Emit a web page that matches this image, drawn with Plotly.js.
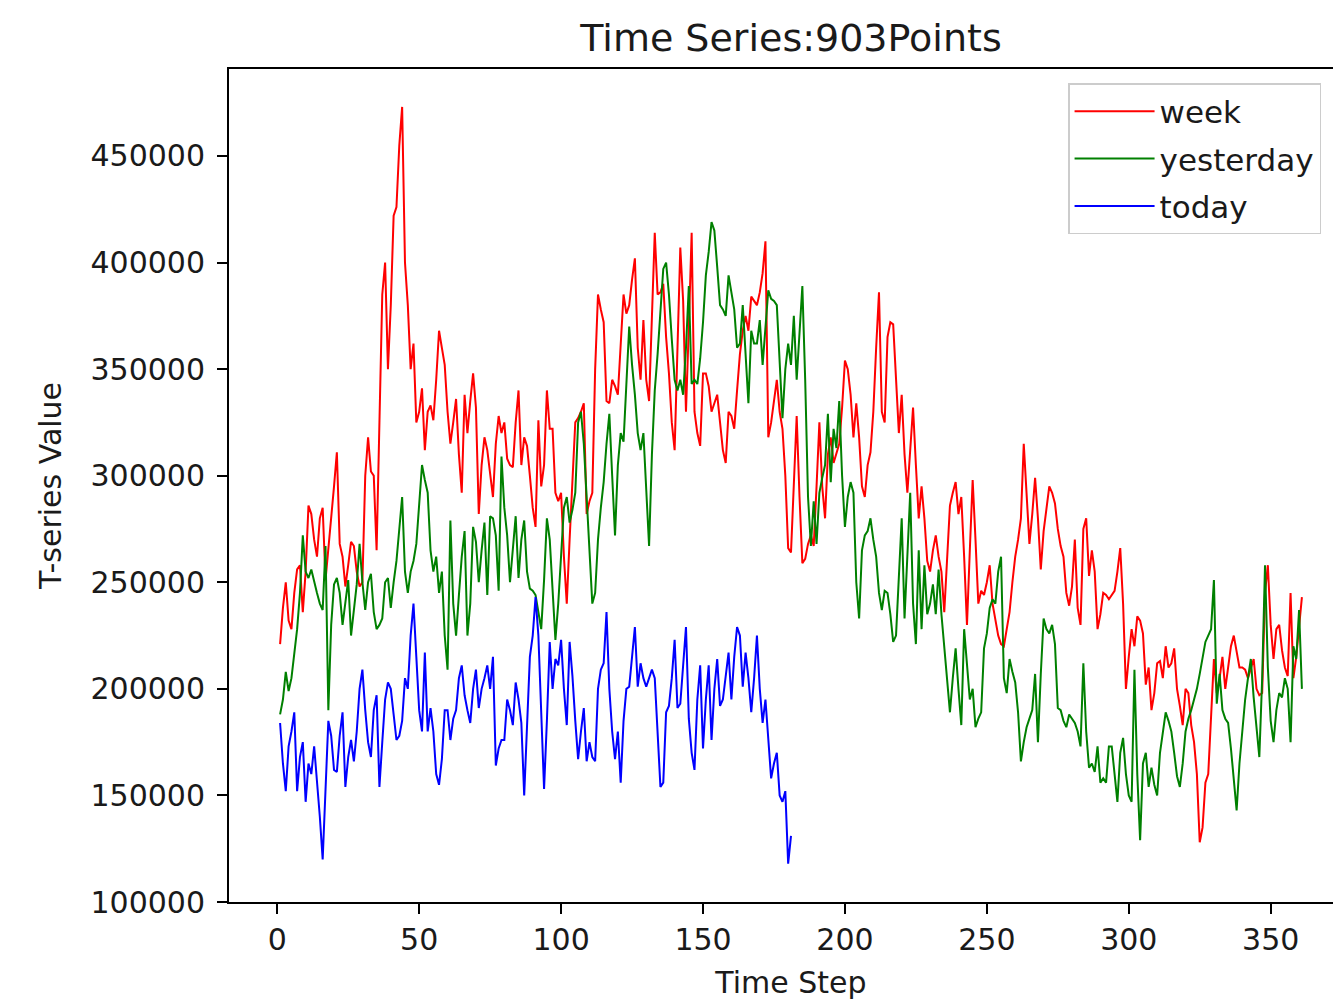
<!DOCTYPE html>
<html>
<head>
<meta charset="utf-8">
<script src="https://cdn.plot.ly/plotly-3.0.1.min.js"></script>
<style>
html,body{margin:0;padding:0;overflow:hidden;background:#ffffff;}
#chart{width:1380px;height:1002px;}
</style>
</head>
<body>
<div id="chart"></div>
<script>
// ---- data ----
const week = [
221e3,238e3,250e3,232e3,228e3,245e3,256e3,258e3,236e3,255e3,
286e3,282e3,270e3,262e3,280e3,285e3,251e3,265e3,279e3,295e3,
311e3,268e3,262e3,248e3,258e3,269e3,267e3,255e3,248e3,250e3,
300e3,318e3,302e3,300e3,265e3,320e3,385e3,400e3,350e3,380e3,
422e3,426e3,455e3,473e3,400e3,380e3,350e3,362e3,325e3,330e3,
341e3,312e3,330e3,333e3,326e3,345e3,368e3,360e3,352e3,330e3,
315e3,325e3,336e3,310e3,292e3,338e3,320e3,335e3,348e3,332e3,
282e3,305e3,318e3,312e3,300e3,290e3,315e3,328e3,320e3,325e3,
308e3,305e3,304e3,325e3,340e3,305e3,318e3,314e3,300e3,285e3,
276e3,326e3,295e3,305e3,340e3,322e3,322e3,292e3,288e3,292e3,
262e3,240e3,270e3,300e3,325e3,327e3,330e3,334e3,282e3,288e3,
292e3,350e3,385e3,378e3,372e3,335e3,334e3,345e3,342e3,338e3,
365e3,385e3,376e3,380e3,392e3,402e3,360e3,345e3,373e3,345e3,
335e3,370e3,414e3,385e3,386e3,390e3,365e3,348e3,325e3,312e3,
360e3,407e3,382e3,330e3,370e3,414e3,330e3,320e3,314e3,348e3,
348e3,342e3,330e3,334e3,338e3,325e3,312e3,306e3,330e3,328e3,
322e3,340e3,357e3,368e3,375e3,368e3,384e3,382e3,380e3,386e3,
395e3,410e3,318e3,325e3,335e3,345e3,330e3,322e3,300e3,266e3,
264e3,295e3,328e3,290e3,259e3,261e3,268e3,272e3,267e3,295e3,
325e3,295e3,280e3,310e3,318e3,306e3,310e3,315e3,332e3,354e3,
350e3,338e3,318e3,334e3,318e3,295e3,290e3,305e3,311e3,330e3,
360e3,386e3,330e3,325e3,365e3,372e3,371e3,345e3,320e3,338e3,
310e3,292e3,310e3,332e3,305e3,280e3,295e3,280e3,260e3,255e3,
265e3,272e3,262e3,255e3,236e3,262e3,286e3,292e3,297e3,282e3,
290e3,262e3,230e3,265e3,298e3,270e3,240e3,246e3,244e3,250e3,
258e3,240e3,232e3,225e3,221e3,220e3,228e3,236e3,250e3,262e3,
270e3,280e3,315e3,292e3,268e3,282e3,299e3,280e3,256e3,274e3,
285e3,295e3,292e3,287e3,275e3,267e3,262e3,245e3,239e3,248e3,
270e3,238e3,230e3,275e3,280e3,253e3,265e3,255e3,228e3,235e3,
245e3,244e3,242e3,244e3,246e3,255e3,266e3,240e3,200e3,215e3,
228e3,220e3,234e3,232e3,226e3,202e3,210e3,190e3,198e3,212e3,
213e3,205e3,220e3,210e3,212e3,219e3,200e3,192e3,183e3,200e3,
198e3,183e3,175e3,160e3,128e3,135e3,156e3,160e3,185e3,214e3,
198e3,205e3,215e3,200e3,210e3,220e3,225e3,218e3,210e3,210e3,
209e3,205e3,210e3,214e3,200e3,197e3,198e3,245e3,258e3,230e3,
214e3,228e3,230e3,218e3,210e3,206e3,245e3,205e3,215e3,230e3,243e3
];
const yesterday = [
188e3,195e3,208e3,199e3,205e3,216e3,228e3,245e3,272e3,255e3,
252e3,256e3,250e3,245e3,240e3,237e3,267e3,190e3,230e3,249e3,
252e3,245e3,230e3,240e3,251e3,225e3,238e3,249e3,268e3,250e3,
237e3,250e3,254e3,236e3,228e3,230e3,233e3,250e3,252e3,238e3,
250e3,260e3,275e3,290e3,255e3,245e3,255e3,260e3,268e3,285e3,
305e3,298e3,292e3,265e3,255e3,262e3,245e3,255e3,225e3,209e3,
279e3,240e3,225e3,244e3,262e3,274e3,225e3,240e3,276e3,269e3,
250e3,265e3,278e3,244e3,281e3,280e3,272e3,246e3,309e3,285e3,
272e3,250e3,265e3,281e3,252e3,270e3,279e3,255e3,247e3,246e3,
244e3,235e3,228e3,251e3,280e3,270e3,245e3,223e3,240e3,260e3,
285e3,290e3,278e3,284e3,292e3,325e3,330e3,315e3,290e3,265e3,
240e3,245e3,270e3,285e3,297e3,315e3,329e3,300e3,272e3,305e3,
320e3,316e3,340e3,370e3,352e3,338e3,320e3,312e3,320e3,290e3,
267e3,310e3,340e3,357e3,375e3,397e3,400e3,385e3,364e3,345e3,
340e3,345e3,338e3,360e3,389e3,343e3,345e3,343e3,355e3,372e3,
394e3,405e3,419e3,415e3,398e3,380e3,378e3,375e3,394e3,385e3,
378e3,360e3,362e3,380e3,355e3,334e3,368e3,362e3,362e3,373e3,
352e3,370e3,387e3,383e3,382e3,380e3,355e3,327e3,350e3,362e3,
352e3,375e3,345e3,370e3,389e3,345e3,290e3,267e3,288e3,268e3,
292e3,299e3,305e3,329e3,297e3,322e3,313e3,335e3,300e3,276e3,
290e3,297e3,292e3,250e3,233e3,265e3,272e3,274e3,280e3,270e3,
262e3,245e3,237e3,246e3,245e3,235e3,222e3,225e3,251e3,280e3,
233e3,265e3,292e3,240e3,221e3,265e3,228e3,258e3,235e3,240e3,
249e3,235e3,256e3,235e3,220e3,205e3,189e3,205e3,219e3,200e3,
183e3,228e3,210e3,195e3,200e3,182e3,186e3,189e3,219e3,226e3,
238e3,242e3,240e3,255e3,262e3,205e3,198e3,214e3,208e3,203e3,
189e3,166e3,175e3,182e3,186e3,190e3,207e3,175e3,207e3,233e3,
228e3,226e3,230e3,221e3,191e3,190e3,185e3,182e3,188e3,186e3,
184e3,180e3,173e3,212e3,180e3,163e3,165e3,161e3,173e3,156e3,
158e3,156e3,173e3,173e3,160e3,147e3,170e3,177e3,160e3,150e3,
147e3,209e3,160e3,129e3,165e3,170e3,154e3,163e3,155e3,150e3,
170e3,180e3,189e3,185e3,180e3,170e3,159e3,154e3,165e3,180e3,
186e3,190e3,195e3,200e3,207e3,215e3,222e3,225e3,228e3,251e3,
193e3,207e3,190e3,186e3,184e3,172e3,159e3,143e3,165e3,182e3,
195e3,205e3,214e3,196e3,180e3,168e3,205e3,258e3,210e3,185e3,
175e3,190e3,198e3,196e3,205e3,200e3,175e3,220e3,214e3,237e3,200e3
];
const today = [
184e3,165e3,152e3,173e3,180e3,189e3,152e3,168e3,175e3,147e3,
165e3,160e3,173e3,158e3,140e3,120e3,150e3,185e3,178e3,162e3,
161e3,178e3,189e3,154e3,168e3,176e3,166e3,180e3,200e3,209e3,
190e3,175e3,168e3,190e3,197e3,154e3,175e3,195e3,203e3,200e3,
188e3,176e3,178e3,185e3,205e3,200e3,225e3,240e3,215e3,190e3,
180e3,217e3,180e3,191e3,180e3,160e3,155e3,167e3,190e3,190e3,
176e3,186e3,190e3,205e3,211e3,197e3,190e3,184e3,200e3,209e3,
191e3,200e3,205e3,211e3,200e3,215e3,164e3,172e3,176e3,176e3,
195e3,190e3,183e3,203e3,195e3,184e3,150e3,185e3,215e3,225e3,
243e3,225e3,190e3,153e3,185e3,222e3,200e3,214e3,211e3,223e3,
200e3,183e3,222e3,206e3,185e3,167e3,180e3,191e3,166e3,175e3,
168e3,166e3,200e3,209e3,212e3,236e3,200e3,180e3,167e3,180e3,
156e3,185e3,200e3,201e3,215e3,229e3,201e3,212e3,205e3,201e3,
205e3,209e3,205e3,180e3,154e3,156e3,189e3,192e3,205e3,223e3,
191e3,193e3,210e3,229e3,186e3,170e3,162e3,195e3,211e3,172e3,
195e3,211e3,176e3,200e3,214e3,192e3,195e3,205e3,217e3,195e3,
215e3,229e3,225e3,201e3,217e3,205e3,189e3,205e3,225e3,200e3,
184e3,195e3,175e3,158e3,165e3,170e3,150e3,147e3,152e3,118e3,131e3
];
const seriesNames = ['week', 'yesterday', 'today'];
const seriesColors = ['#ff0000', '#008000', '#0000ff'];
const xTickValues = [0, 50, 100, 150, 200, 250, 300, 350];
const yTickValues = [100000, 150000, 200000, 250000, 300000, 350000, 400000, 450000];
const chartTitle = 'Time Series:903Points';
const xLabel = 'Time Step';
const yLabel = 'T-series Value';

// ---- chart ----
const FONT = '"DejaVu Sans", sans-serif';
const TXT = '#1a1a1a';
const steps = arr => arr.map((_, i) => i + 1);
const allSeries = [week, yesterday, today];

const traces = allSeries.map((vals, k) => ({
  type: 'scatter',
  mode: 'lines',
  name: seriesNames[k],
  legendgroup: seriesNames[k],
  x: steps(vals),
  y: vals,
  line: {color: seriesColors[k], width: 2}
}));

const axisCommon = {
  ticks: 'outside', ticklen: 10, tickwidth: 2, tickcolor: '#000',
  showline: true, linecolor: '#000', linewidth: 2,
  showgrid: false, zeroline: false,
  tickfont: {family: FONT, size: 30, color: TXT}
};

const layout = {
  width: 1380, height: 1002,
  margin: {l: 229, r: 27, t: 69, b: 100},
  paper_bgcolor: '#ffffff', plot_bgcolor: '#ffffff',
  showlegend: true,
  title: {
    text: chartTitle,
    font: {family: FONT, size: 38, color: TXT},
    x: 0.5, xref: 'paper', xanchor: 'center',
    y: 1 - 38 / 1002, yref: 'container', yanchor: 'middle'
  },
  xaxis: Object.assign({}, axisCommon, {
    range: [-17, 379], mirror: true,
    tickmode: 'array', tickvals: xTickValues,
    ticklabelstandoff: 0,
    title: {text: xLabel, font: {family: FONT, size: 30, color: TXT}, standoff: 16}
  }),
  yaxis: Object.assign({}, axisCommon, {
    range: [100000, 490800], mirror: false,
    tickmode: 'array', tickvals: yTickValues, tickformat: 'd',
    ticklabelstandoff: 6,
    title: {text: yLabel, font: {family: FONT, size: 30, color: TXT}, standoff: 20}
  }),
  legend: {
    x: 0.7465, y: 0.983, xanchor: 'left', yanchor: 'top',
    bgcolor: 'rgba(255,255,255,0.8)', bordercolor: '#cccccc', borderwidth: 1.5,
    font: {family: FONT, size: 31, color: TXT},
    itemwidth: 80, tracegroupgap: 4, entrywidth: 330
  }
};

Plotly.newPlot('chart', traces, layout, {displayModeBar: false, staticPlot: true});
</script>
</body>
</html>
